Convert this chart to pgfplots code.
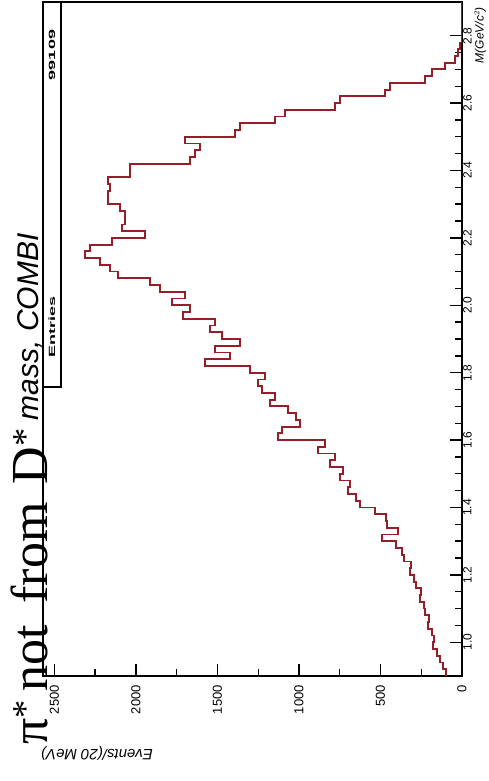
\documentclass[border=0pt]{standalone}
\usepackage{fontspec}
\setmainfont{Liberation Sans}
\newfontfamily\serifT{Liberation Serif}
\newfontfamily\sansT{Liberation Sans}
\usepackage{pgfplots}
\pgfplotsset{compat=1.18}
\definecolor{histred}{RGB}{150,30,40}
\begin{document}
\begin{tikzpicture}
\path[use as bounding box] (0,0) rectangle (488pt,781pt);
\begin{axis}[
  at={(43pt,105pt)}, anchor=south west,
  scale only axis, width=419pt, height=674pt,
  xmin=0, xmax=2570, x dir=reverse,
  ymin=0.9, ymax=2.9,
  xtick={0,500,1000,1500,2000,2500},
  minor x tick num=1,
  ytick={1.0,1.2,1.4,1.6,1.8,2.0,2.2,2.4,2.6,2.8},
  minor y tick num=3,
  xtick pos=bottom, ytick pos=right, yticklabel pos=right,
  tick align=inside,
  major tick length=12pt, minor tick length=7pt,
  every tick/.style={black, line width=1.4pt},
  axis line style={line width=2.4pt},
  /pgf/number format/assume math mode=true,
  /pgf/number format/1000 sep={},
  yticklabel style={rotate=90, anchor=north, inner sep=1pt, font=\fontsize{12}{12}\selectfont,
     /pgf/number format/.cd, fixed, fixed zerofill, precision=1},
  xticklabel style={rotate=90, anchor=east, inner sep=1pt, font=\fontsize{13}{13}\selectfont},
  xticklabel shift=8pt,
  yticklabel shift=0pt,
]
\addplot[histred, line width=1.8pt] coordinates {
(98,0.90) (98,0.92) (117,0.92) (117,0.94) (135,0.94) (135,0.96) (153,0.96) (153,0.98)
(178,0.98) (178,1.00) (172,1.00) (172,1.02) (184,1.02) (184,1.04) (209,1.04) (209,1.06)
(202,1.06) (202,1.08) (227,1.08) (227,1.10) (233,1.10) (233,1.12) (258,1.12) (258,1.14)
(252,1.14) (252,1.16) (282,1.16) (282,1.18) (294,1.18) (294,1.20) (319,1.20) (319,1.22)
(313,1.22) (313,1.24) (356,1.24) (356,1.26) (368,1.26) (368,1.28) (405,1.28) (405,1.30)
(491,1.30) (491,1.32) (393,1.32) (393,1.34) (460,1.34) (460,1.36) (466,1.36) (466,1.38)
(534,1.38) (534,1.40) (626,1.40) (626,1.42) (650,1.42) (650,1.44) (699,1.44) (699,1.46)
(687,1.46) (687,1.48) (748,1.48) (748,1.50) (730,1.50) (730,1.52) (810,1.52) (810,1.54)
(779,1.54) (779,1.56) (883,1.56) (883,1.58) (840,1.58) (840,1.60) (1129,1.60) (1129,1.62)
(1104,1.62) (1104,1.64) (994,1.64) (994,1.66) (1018,1.66) (1018,1.68) (1067,1.68) (1067,1.70)
(1178,1.70) (1178,1.72) (1147,1.72) (1147,1.74) (1227,1.74) (1227,1.76) (1252,1.76) (1252,1.78)
(1209,1.78) (1209,1.80) (1300,1.80) (1300,1.82) (1577,1.82) (1577,1.84) (1423,1.84) (1423,1.86)
(1515,1.86) (1515,1.88) (1362,1.88) (1362,1.90) (1472,1.90) (1472,1.92) (1546,1.92) (1546,1.94)
(1515,1.94) (1515,1.96) (1712,1.96) (1712,1.98) (1669,1.98) (1669,2.00) (1779,2.00) (1779,2.02)
(1699,2.02) (1699,2.04) (1853,2.04) (1853,2.06) (1914,2.06) (1914,2.08) (2110,2.08) (2110,2.10)
(2160,2.10) (2160,2.12) (2221,2.12) (2221,2.14) (2313,2.14) (2313,2.16) (2282,2.16) (2282,2.18)
(2147,2.18) (2147,2.20) (1945,2.20) (1945,2.22) (2086,2.22) (2086,2.24) (2067,2.24) (2067,2.26)
(2067,2.26) (2067,2.28) (2100,2.28) (2100,2.30) (2172,2.30) (2172,2.32) (2172,2.32) (2172,2.34)
(2160,2.34) (2160,2.36) (2172,2.36) (2172,2.38) (2037,2.38) (2037,2.40) (2037,2.40) (2037,2.42)
(1669,2.42) (1669,2.44) (1638,2.44) (1638,2.46) (1607,2.46) (1607,2.48) (1699,2.48) (1699,2.50)
(1393,2.50) (1393,2.52) (1362,2.52) (1362,2.54) (1147,2.54) (1147,2.56) (1086,2.56) (1086,2.58)
(779,2.58) (779,2.60) (748,2.60) (748,2.62) (472,2.62) (472,2.64) (442,2.64) (442,2.66)
(227,2.66) (227,2.68) (184,2.68) (184,2.70) (104,2.70) (104,2.72) (43,2.72) (43,2.74)
(25,2.74) (25,2.76) (12,2.76) (12,2.78) (0,2.78) (0,2.90)
};
\end{axis}
% stats box
\draw[line width=2.2pt, fill=white] (43pt,394pt) rectangle (61pt,779pt);
\node[rotate=90, inner sep=0pt, font=\fontsize{9}{9}\selectfont\bfseries] at (52pt,454pt) {\scalebox{2.0}[1]{Entries}};
\node[rotate=90, inner sep=0pt, font=\fontsize{9}{9}\selectfont\bfseries] at (52pt,726pt) {\scalebox{2.0}[1]{99109}};
% title
\node[rotate=90, anchor=base west, inner sep=0pt] at (47pt,36pt)
  {\serifT\fontsize{52}{52}\selectfont π\textsuperscript{*}\hspace{8pt}not\hspace{22pt}from\hspace{18pt}D\textsuperscript{*}\hspace{8pt}\raisebox{9pt}{\sansT\itshape\fontsize{30}{30}\selectfont mass, COMBI}};
% axis titles
\node[rotate=90, anchor=north east, inner sep=0pt, font=\fontsize{12}{12}\selectfont\itshape] at (474pt,774pt) {M(GeV/c$^{2}$)};
\node[rotate=180, inner sep=0pt, font=\fontsize{15}{15}\selectfont\itshape] at (97pt,28pt) {Events/(20 MeV)};
\end{tikzpicture}
\end{document}
